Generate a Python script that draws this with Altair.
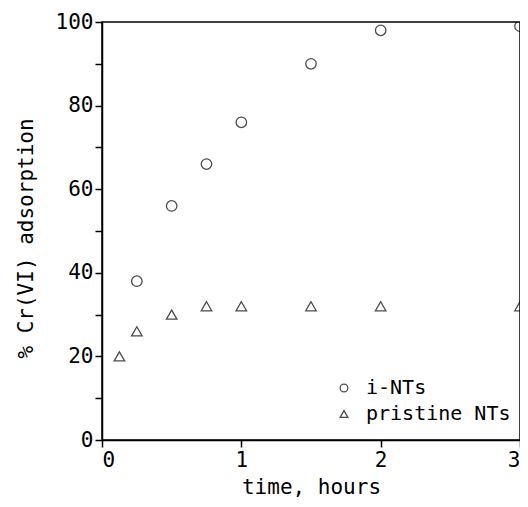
import altair as alt
import pandas as pd

time_ints = [0.25, 0.5, 0.75, 1.0, 1.5, 2.0, 3.0]
ints_vals = [38, 56, 66, 76, 90, 98, 99]
time_pristine = [0.125, 0.25, 0.5, 0.75, 1.0, 1.5, 2.0, 3.0]
pristine_vals = [20, 26, 30, 32, 32, 32, 32, 32]
series_names = ["i-NTs", "pristine NTs"]
x_ticks = [0, 0.5, 1, 1.5, 2, 2.5, 3]
y_ticks = [0, 10, 20, 30, 40, 50, 60, 70, 80, 90, 100]

df = pd.DataFrame(
    {
        "time": time_ints + time_pristine,
        "value": ints_vals + pristine_vals,
        "series": [series_names[0]] * len(time_ints) + [series_names[1]] * len(time_pristine),
    }
)

FONT = "DejaVu Sans Mono"

chart = (
    alt.Chart(df)
    .mark_point(filled=False, color="black", strokeWidth=1.3, size=110, clip=True)
    .encode(
        x=alt.X(
            "time:Q",
            scale=alt.Scale(domain=[0, 3], nice=False, zero=False),
            axis=alt.Axis(
                title="time, hours",
                values=x_ticks,
                format="d",
                labelExpr="datum.value % 1 == 0 ? datum.label : ''",
                grid=False,
                titleBaseline="middle",
                titleY=47,
            ),
        ),
        y=alt.Y(
            "value:Q",
            scale=alt.Scale(domain=[0, 100], nice=False),
            axis=alt.Axis(
                title="% Cr(VI) adsorption",
                values=y_ticks,
                format="d",
                labelExpr="datum.value % 20 == 0 ? datum.label : ''",
                grid=False,
                titleBaseline="middle",
                titleX=-76,
                titleY=216,
            ),
        ),
        shape=alt.Shape(
            "series:N",
            scale=alt.Scale(domain=series_names, range=["circle", "triangle-up"]),
            legend=alt.Legend(
                title=None,
                orient="none",
                legendX=232,
                legendY=356,
                labelFontSize=20,
                labelFont=FONT,
                labelColor="black",
                symbolSize=60,
                symbolStrokeColor="black",
                symbolFillColor="transparent",
                symbolStrokeWidth=1.3,
                rowPadding=6,
                labelOffset=12,
            ),
        ),
    )
    .properties(
        width=418,
        height=418,
        autosize=alt.AutoSizeParams(type="none"),
        padding={"left": 94, "top": 14, "right": 0, "bottom": 59},
    )
    .configure_view(stroke="black", strokeWidth=1.5)
    .configure_axis(
        domainColor="black",
        domainWidth=1.5,
        tickColor="black",
        tickWidth=1.5,
        tickSize=7,
        labelFont=FONT,
        labelFontSize=21,
        labelColor="black",
        titleFont=FONT,
        titleFontSize=21,
        titleFontWeight="normal",
        titleColor="black",
        labelPadding=2,
    )
)

chart.save("out.html", embed_options={"renderer": "svg", "actions": False})
